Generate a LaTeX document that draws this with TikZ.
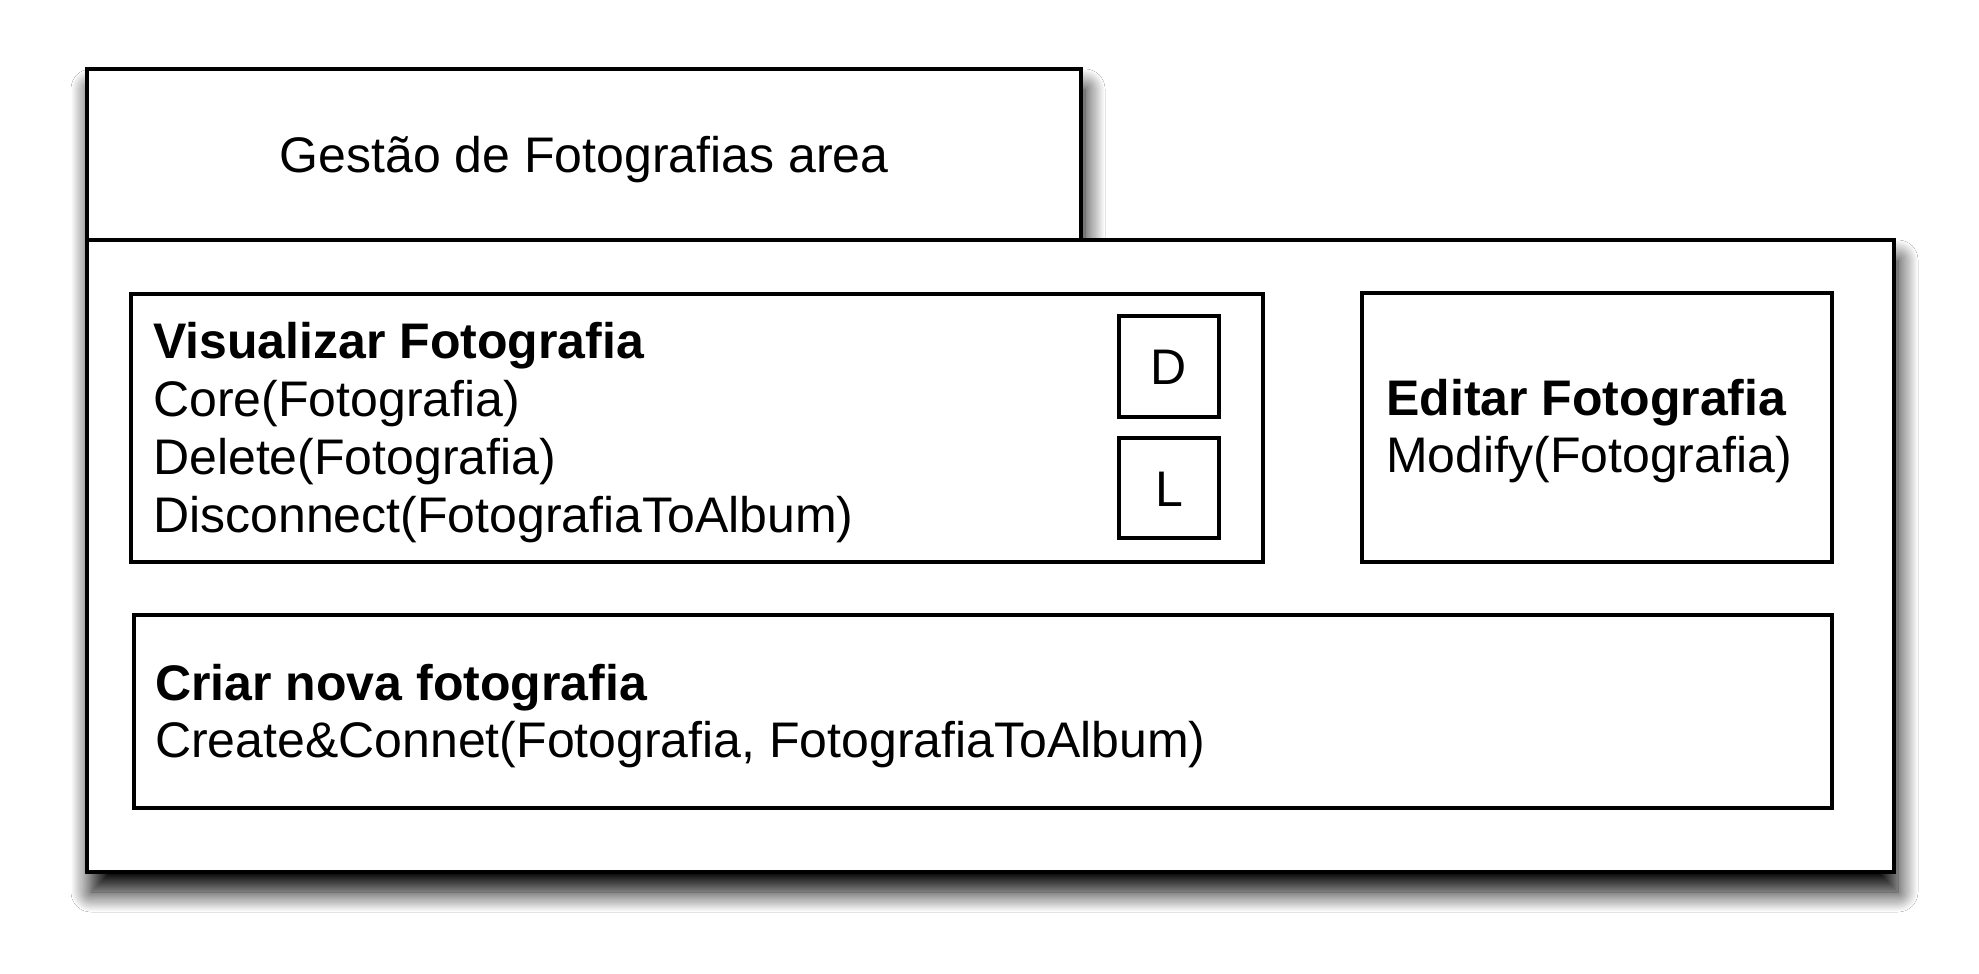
\documentclass[tikz,border=0pt]{standalone}
\usepackage{fontspec}
\setmainfont{Liberation Sans}
\usetikzlibrary{shadows.blur}
\begin{document}
\begin{tikzpicture}[x=1pt,y=-1pt,line join=miter,
  box/.style={draw=black,line width=3.2pt,fill=white},
  txt/.style={anchor=base west,inner sep=0pt,font=\fontsize{50}{58}\selectfont},
  btxt/.style={anchor=base west,inner sep=0pt,font=\fontsize{50}{58}\selectfont\bfseries},
  ctxt/.style={anchor=base,inner sep=0pt,font=\fontsize{50}{58}\selectfont}]
\useasboundingbox (0,0) rectangle (1979,974);
\fill[white] (0,0) rectangle (1979,974);
% package outline with shadow
\draw[line width=3.4pt,fill=white,
  blur shadow={shadow xshift=4pt,shadow yshift=-20pt,shadow blur radius=20pt,shadow blur steps=20,shadow opacity=100}]
  (87,69) -- (1081,69) -- (1081,240) -- (1894,240) -- (1894,872) -- (87,872) -- cycle;
\draw[line width=3.4pt] (87,240) -- (1081,240);
\node[ctxt] (title) at (584,172) {Gestão de Fotografias area};
% Visualizar
\draw[box] (131,294) rectangle (1263,562);
\node[btxt] (v0) at (153,358) {Visualizar Fotografia};
\node[txt] (v1) at (153,416) {Core(Fotografia)};
\node[txt] (v2) at (153,474) {Delete(Fotografia)};
\node[txt] (v3) at (153,532) {Disconnect(FotografiaToAlbum)};
\draw[box] (1119,316) rectangle (1219,417);
\node[ctxt] (d) at (1169,384) {D};
\draw[box] (1119,438) rectangle (1219,538);
\node[ctxt] (l) at (1169,506) {L};
% Editar
\draw[box] (1362,293) rectangle (1832,562);
\node[btxt] (e0) at (1386,415) {Editar Fotografia};
\node[txt] (e1) at (1386,472) {Modify(Fotografia)};
% Criar
\draw[box] (134,615) rectangle (1832,808);
\node[btxt] (c0) at (155,700) {Criar nova fotografia};
\node[txt] (c1) at (155,757) {Create\&Connet(Fotografia, FotografiaToAlbum)};
\end{tikzpicture}
\end{document}
